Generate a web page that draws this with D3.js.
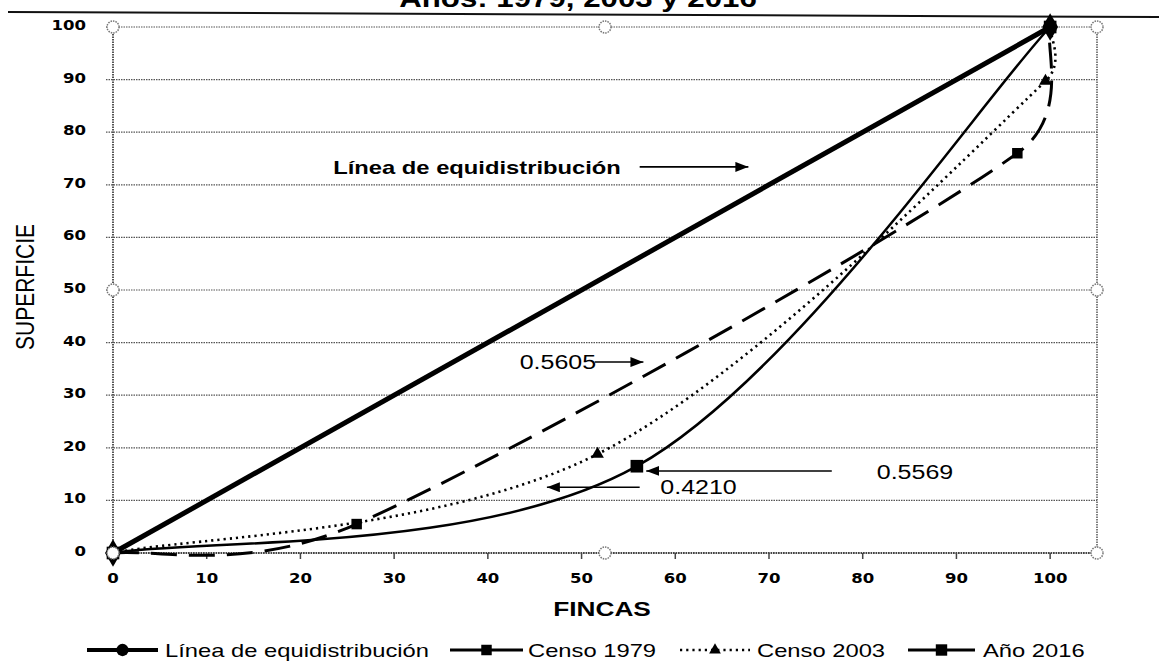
<!DOCTYPE html>
<html><head><meta charset="utf-8">
<script src="https://cdn.jsdelivr.net/npm/d3@7/dist/d3.min.js"></script>
<style>html,body{margin:0;padding:0;background:#fff;}svg{display:block;}</style>
</head><body>
<svg id="c" width="1159" height="664"></svg>
<script>
// ---------- data ----------
const title = "Años: 1979,  2003 y 2016";
const xTicks = [0,10,20,30,40,50,60,70,80,90,100];
const yTicks = [0,10,20,30,40,50,60,70,80,90,100];
const equiX = [0,100];
const equiY = [0,100];
const c1979X = [0,26,96.5,100];
const c1979Y = [0,5.5,76,100];
const c2003X = [0,51.7,99.5,100];
const c2003Y = [0,18.8,89.7,100];
const a2016X = [0,55.9,100];
const a2016Y = [0,16.5,100];
const seriesNames = ["Línea de equidistribución","Censo 1979","Censo 2003","Año 2016"];
const giniLabels = ["0.5605","0.4210","0.5569"];

// ---------- setup ----------
const SX = 1.25; // horizontal text stretch seen in the picture
const svg = d3.select("#c");
const x = d3.scaleLinear().domain([0,105]).range([113,1097]);
const y = d3.scaleLinear().domain([0,100]).range([553,27]);
const zip = (xs,ys)=>xs.map((v,i)=>[v,ys[i]]);

function stext(parent,px,py,str,o){
  const g = parent.append("g").attr("transform",`translate(${px},${py}) scale(${o.sx||SX},1)${o.rot?` rotate(${o.rot})`:""}`);
  return g.append("text").text(str)
    .attr("font-family",o.family||"'Liberation Sans', Arial, sans-serif")
    .attr("font-size",o.size).attr("font-weight",o.weight||"normal")
    .attr("text-anchor",o.anchor||"start").attr("dy",o.dy||"0.35em").attr("fill","#000");
}

// spreadsheet-style smoothed line (Bezier through points, handles capped at half a segment)
function smoothPath(data){
  const pts = data.map(d=>[x(d[0]),y(d[1])]);
  const dist=(a,b)=>Math.hypot(a[0]-b[0],a[1]-b[1]);
  const p = d3.path();
  p.moveTo(pts[0][0],pts[0][1]);
  for(let i=0;i<pts.length-1;i++){
    const P0=pts[i-1]||pts[i], P1=pts[i], P2=pts[i+1], P3=pts[i+2]||pts[i+1];
    const d02=dist(P0,P2), d12=dist(P1,P2), d13=dist(P1,P3);
    const f = (d02/6 < d12/2 || d02===0) ? 1/6 : d12/(2*d02);
    const g = (d13/6 < d12/2 || d13===0) ? 1/6 : d12/(2*d13);
    p.bezierCurveTo(P1[0]+f*(P2[0]-P0[0]), P1[1]+f*(P2[1]-P0[1]),
                    P2[0]-g*(P3[0]-P1[0]), P2[1]-g*(P3[1]-P1[1]), P2[0], P2[1]);
  }
  return p.toString();
}

const defs = svg.append("defs");
defs.append("marker").attr("id","ah").attr("viewBox","0 0 13 10").attr("refX",13).attr("refY",5)
  .attr("markerWidth",13).attr("markerHeight",10).attr("markerUnits","userSpaceOnUse").attr("orient","auto")
  .append("path").attr("d","M0,0 L13,5 L0,10 Z").attr("fill","#000");

// title (cut at top) and rule
stext(svg,578,7,title,{size:25,weight:"bold",anchor:"middle",dy:"0"});
svg.append("line").attr("x1",8).attr("y1",12).attr("x2",1159).attr("y2",17).attr("stroke","#111").attr("stroke-width",2);

// gridlines
const grid = svg.append("g");
grid.selectAll("line").data(yTicks).join("line")
  .attr("x1",x(0)-7).attr("x2",x(105)).attr("y1",d=>y(d)).attr("y2",d=>y(d))
  .attr("stroke","#555").attr("stroke-width",1.2).attr("stroke-dasharray","1.5,1");
// axes / border
svg.append("line").attr("x1",x(0)).attr("x2",x(0)).attr("y1",y(0)).attr("y2",y(100)).attr("stroke","#555").attr("stroke-width",2).attr("stroke-dasharray","1.5,1");
svg.append("line").attr("x1",x(105)).attr("x2",x(105)).attr("y1",y(0)).attr("y2",y(100)).attr("stroke","#555").attr("stroke-width",1.5).attr("stroke-dasharray","1.5,1");
svg.append("line").attr("x1",x(0)).attr("x2",x(105)).attr("y1",y(0)).attr("y2",y(0)).attr("stroke","#444").attr("stroke-width",2).attr("stroke-dasharray","1.5,1");
svg.append("g").selectAll("line").data(xTicks).join("line")
  .attr("x1",d=>x(d)).attr("x2",d=>x(d)).attr("y1",y(0)).attr("y2",y(0)+6).attr("stroke","#444").attr("stroke-width",1.5);

// tick labels
xTicks.forEach(t=>stext(svg,x(t),578,String(t),{size:14,weight:"bold",anchor:"middle",sx:1.18,family:"'DejaVu Sans', Verdana, sans-serif"}));
yTicks.forEach(t=>stext(svg,86,y(t)-2,String(t),{size:14,weight:"bold",anchor:"end",sx:1.18,family:"'DejaVu Sans', Verdana, sans-serif"}));

// axis titles
stext(svg,602,609,"FINCAS",{size:21,weight:"bold",anchor:"middle"});
stext(svg,25,287,"SUPERFICIE",{size:21,anchor:"middle",rot:-90,sx:1.25,family:"'Liberation Sans Narrow','Liberation Sans',Arial,sans-serif"});

// series
const plot = svg.append("g");
plot.append("path").attr("d",smoothPath(zip(a2016X,a2016Y))).attr("fill","none").attr("stroke","#000").attr("stroke-width",2.5);
plot.append("path").attr("d",smoothPath(zip(c2003X,c2003Y))).attr("fill","none").attr("stroke","#000").attr("stroke-width",2.6).attr("stroke-dasharray","2.2,4");
plot.append("path").attr("d",smoothPath(zip(c1979X,c1979Y))).attr("fill","none").attr("stroke","#000").attr("stroke-width",3).attr("stroke-dasharray","26,12");
plot.append("path").datum(zip(equiX,equiY)).attr("d",d3.line().x(d=>x(d[0])).y(d=>y(d[1]))).attr("fill","none").attr("stroke","#000").attr("stroke-width",5);

const sym = (type,size)=>d3.symbol().type(type).size(size)();
function markers(xs,ys,type,size){
  plot.append("g").selectAll("path").data(zip(xs,ys)).join("path")
    .attr("transform",d=>`translate(${x(d[0])},${y(d[1])})`).attr("d",sym(type,size)).attr("fill","#000");
}
markers(c1979X,c1979Y,d3.symbolSquare,110);
markers(c2003X,c2003Y,d3.symbolTriangle,70);
markers(a2016X,a2016Y,d3.symbolSquare,160);
markers(equiX,equiY,d3.symbolDiamond,220);

// selection handles
const handles = [[0,100],[52.5,100],[105,100],[0,50],[105,50],[0,0],[52.5,0],[105,0]];
svg.append("g").selectAll("circle").data(handles).join("circle")
  .attr("cx",d=>x(d[0])).attr("cy",d=>y(d[1])).attr("r",6)
  .attr("fill","#fff").attr("stroke","#777").attr("stroke-width",1.5).attr("stroke-dasharray","1.5,1");

// annotations
const ann = svg.append("g");
function arrow(x1,x2,yy){
  ann.append("line").attr("x1",x(x1)).attr("x2",x(x2)).attr("y1",y(yy)).attr("y2",y(yy))
    .attr("stroke","#000").attr("stroke-width",1.6).attr("marker-end","url(#ah)");
}
stext(ann,x(23.5),y(73.4),seriesNames[0],{size:19,weight:"bold"});
arrow(56.2,67.8,73.4);
stext(ann,x(43.4),y(36.3),giniLabels[0],{size:20});
arrow(51.4,56.6,36.3);
stext(ann,x(58.4),y(12.5),giniLabels[1],{size:20});
arrow(56.2,46.3,12.5);
stext(ann,x(81.5),y(15.4),giniLabels[2],{size:20});
arrow(76.7,56.9,15.6);

// legend
const leg = svg.append("g");
const legItems = [
  {name:seriesNames[0], x0:87, x1:158, sym:d3.symbolCircle, sz:120, w:4, dash:null, tx:165},
  {name:seriesNames[1], x0:450, x1:523, sym:d3.symbolSquare, sz:110, w:3, dash:null, tx:528},
  {name:seriesNames[2], x0:680, x1:750, sym:d3.symbolTriangle, sz:60, w:2.6, dash:"2.2,4", tx:757},
  {name:seriesNames[3], x0:908, x1:975, sym:d3.symbolSquare, sz:130, w:3, dash:null, tx:983}
];
const ly = 650;
legItems.forEach(it=>{
  leg.append("line").attr("x1",it.x0).attr("x2",it.x1).attr("y1",ly).attr("y2",ly)
    .attr("stroke","#000").attr("stroke-width",it.w).attr("stroke-dasharray",it.dash);
  leg.append("path").attr("transform",`translate(${(it.x0+it.x1)/2},${ly})`).attr("d",sym(it.sym,it.sz)).attr("fill","#000");
  stext(leg,it.tx,ly,it.name,{size:19});
});
</script>
</body></html>
